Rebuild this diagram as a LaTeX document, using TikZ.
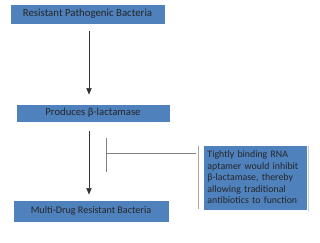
\documentclass[tikz,border=0pt]{standalone}
\usepackage{fontspec}
\setmainfont{Carlito}
\usetikzlibrary{arrows.meta,positioning,shadows}
\definecolor{boxblue}{RGB}{79,129,189}
\definecolor{inhibgray}{RGB}{128,128,128}

\begin{document}
\begin{tikzpicture}[x=0.025cm, y=-0.025cm,
    every node/.style={font=\fontsize{7.2}{8.2}\selectfont, text=black!85, align=center},
    bluebox/.style={fill=boxblue, draw=white, line width=0.6pt, inner sep=0pt,
        drop shadow={shadow xshift=0.6pt, shadow yshift=-0.8pt, fill=black!25, opacity=0.8}},
    arr/.style={draw=black!80, line width=0.4pt, -{Triangle[length=1.6mm, width=1.3mm]}}]
    \useasboundingbox (0,0) rectangle (320,242);
    \node[bluebox, minimum width=3.875cm, minimum height=0.5cm, font=\fontsize{7.7}{9}\selectfont] (resist) at (87.5,14) {Resistant Pathogenic Bacteria};
    \node[bluebox, minimum width=3.85cm, minimum height=0.45cm, font=\fontsize{7.6}{9}\selectfont] (produce) at (93,113) {Produces β-lactamase};
    \node[bluebox, minimum width=3.9cm, minimum height=0.55cm] (multi) at (91,211) {Multi-Drug Resistant Bacteria};
    \node[bluebox, minimum height=1.625cm, text width=2.4cm, inner xsep=0.11cm, align=left, font=\fontsize{7}{8.2}\selectfont] (aptamer) at (255.5,177.5) {Tightly binding RNA\\aptamer would inhibit\\β-lactamase, thereby\\allowing traditional\\antibiotics to function};

    \coordinate (axis) at (89,0);
    \coordinate (bar) at (106,153);
    \draw[arr, shorten <=7*0.025cm, shorten >=9*0.025cm] (resist.south -| axis) -- (produce.north -| axis);
    \draw[arr, shorten <=9*0.025cm, shorten >=5*0.025cm] (produce.south -| axis) -- (multi.north -| axis);

    % inhibition of the lactamase step
    \draw[inhibgray, line width=0.5pt] ([yshift=15*0.025cm]bar) -- ([yshift=-19*0.025cm]bar);
    \draw[inhibgray, line width=0.5pt, shorten >=7*0.025cm] (bar) -- (bar -| aptamer.west);
    \draw[inhibgray!70, line width=0.4pt] ([xshift=-4*0.025cm, yshift=-1*0.025cm]aptamer.north west) -- ([xshift=-4*0.025cm, yshift=1*0.025cm]aptamer.south west);
\end{tikzpicture}
\end{document}
